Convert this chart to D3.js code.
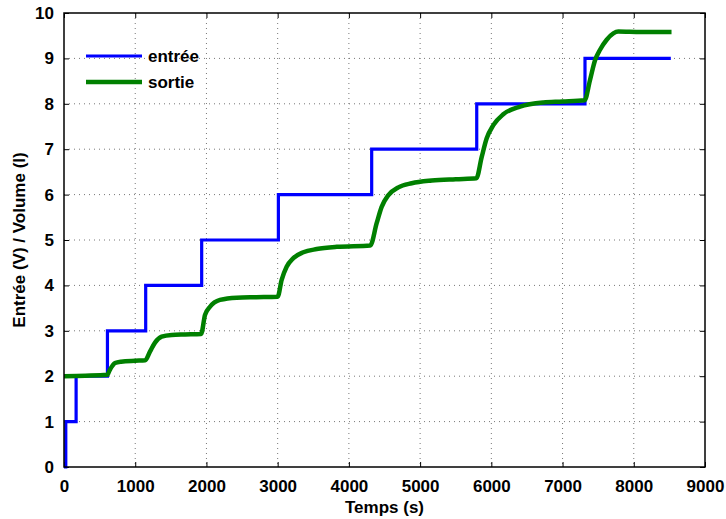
<!DOCTYPE html>
<html><head><meta charset="utf-8">
<script src="https://cdn.jsdelivr.net/npm/d3@7"></script>
<style>body{margin:0;background:#fff;} text{font-family:"Liberation Sans",Arial,sans-serif;font-weight:bold;}</style>
</head><body><svg id="c" width="726" height="519"></svg>
<script>
const xTicks = [0,1000,2000,3000,4000,5000,6000,7000,8000,9000];
const yTicks = [0,1,2,3,4,5,6,7,8,9,10];
// entrée: step times and levels
const inputTimes = [0, 25, 170, 610, 1147, 1933, 3010, 4320, 5795, 7315, 8520];
const inputLevels = [0, 1, 2, 3, 4, 5, 6, 7, 8, 9, 9];
// sortie: points
const outputTimes = [0, 300, 608, 640, 680, 716, 800, 1000, 1140,
  1207, 1278, 1371, 1512, 1700, 1925,
  1980, 2050, 2190, 2425, 2700, 3000,
  3056, 3126, 3220, 3360, 3548, 3829, 4300,
  4390, 4460, 4555, 4695, 4882, 5163, 5500, 5790,
  5865, 5935, 6028, 6168, 6403, 6730, 7000, 7310,
  7385, 7456, 7526, 7620, 7713, 7783, 8100, 8530];
const outputValues = [2.0, 2.01, 2.03, 2.13, 2.23, 2.29, 2.32, 2.34, 2.35,
  2.54, 2.74, 2.87, 2.91, 2.92, 2.93,
  3.35, 3.53, 3.68, 3.73, 3.74, 3.75,
  4.12, 4.41, 4.60, 4.73, 4.80, 4.85, 4.88,
  5.37, 5.73, 5.99, 6.16, 6.25, 6.31, 6.34, 6.36,
  6.83, 7.24, 7.53, 7.77, 7.94, 8.03, 8.05, 8.08,
  8.52, 8.96, 9.19, 9.41, 9.55, 9.59, 9.58, 9.58];
const seriesNames = ["entrée", "sortie"];
const colors = ["#0000ff", "#008000"];

const svg = d3.select("#c");
const m = {l:64, r:705, t:13, b:467};
const x = d3.scaleLinear().domain([0,9000]).range([m.l, m.r]);
const y = d3.scaleLinear().domain([0,10]).range([m.b, m.t]);
const FS = 17;

// grid
const g = svg.append("g");
g.selectAll(".gx").data(xTicks.slice(1,-1)).join("line")
  .attr("x1",d=>x(d)).attr("x2",d=>x(d)).attr("y1",m.t).attr("y2",m.b)
  .attr("stroke","#777").attr("stroke-width",1).attr("stroke-dasharray","1,4");
g.selectAll(".gy").data(yTicks.slice(1,-1)).join("line")
  .attr("y1",d=>y(d)).attr("y2",d=>y(d)).attr("x1",m.l).attr("x2",m.r)
  .attr("stroke","#777").attr("stroke-width",1).attr("stroke-dasharray","1,4");

// axes
const ax = svg.append("g").attr("transform",`translate(0,${m.b})`)
  .call(d3.axisBottom(x).tickValues(xTicks).tickSizeInner(-5).tickSizeOuter(0).tickPadding(13).tickFormat(d3.format("d")));
const ay = svg.append("g").attr("transform",`translate(${m.l},0)`)
  .call(d3.axisLeft(y).tickValues(yTicks).tickSizeInner(-5).tickSizeOuter(0).tickPadding(10).tickFormat(d3.format("d")));
const axT = svg.append("g").attr("transform",`translate(0,${m.t})`)
  .call(d3.axisTop(x).tickValues(xTicks).tickSizeInner(-5).tickSizeOuter(0).tickFormat(""));
const ayR = svg.append("g").attr("transform",`translate(${m.r},0)`)
  .call(d3.axisRight(y).tickValues(yTicks).tickSizeInner(-5).tickSizeOuter(0).tickFormat(""));
[ax,ay,axT,ayR].forEach(a=>{
  a.select(".domain").remove();
  a.selectAll("line").attr("stroke","#000");
  a.selectAll("text").attr("font-size",FS).attr("fill","#000").attr("font-family","Liberation Sans, Arial, sans-serif").attr("font-weight","bold");
});

// lines
const inData = inputTimes.map((t,i)=>[t, inputLevels[i]]);
const outData = outputTimes.map((t,i)=>[t, outputValues[i]]);
svg.append("path").datum(inData)
  .attr("d", d3.line().x(d=>x(d[0])).y(d=>y(d[1])).curve(d3.curveStepAfter))
  .attr("fill","none").attr("stroke",colors[0]).attr("stroke-width",3.2);
svg.append("path").datum(outData)
  .attr("d", d3.line().x(d=>x(d[0])).y(d=>y(d[1])).curve(d3.curveMonotoneX))
  .attr("fill","none").attr("stroke",colors[1]).attr("stroke-width",4.5);

// box
svg.append("rect").attr("x",m.l).attr("y",m.t).attr("width",m.r-m.l).attr("height",m.b-m.t)
  .attr("fill","none").attr("stroke","#000").attr("stroke-width",1.5);

// legend
const lg = svg.append("g");
seriesNames.forEach((n,i)=>{
  const yy = 56 + i*26;
  lg.append("line").attr("x1",86).attr("x2",142).attr("y1",yy).attr("y2",yy)
    .attr("stroke",colors[i]).attr("stroke-width",i?4.5:3.2);
  lg.append("text").attr("x",148).attr("y",yy+6).attr("font-size",FS).text(n);
});

// labels
svg.append("text").attr("x",(m.l+m.r)/2).attr("y",513).attr("text-anchor","middle")
  .attr("font-size",FS).text("Temps (s)");
svg.append("text").attr("transform",`translate(25,${(m.t+m.b)/2}) rotate(-90)`)
  .attr("text-anchor","middle").attr("font-size",FS).text("Entrée (V) / Volume (l)");
</script></body></html>
